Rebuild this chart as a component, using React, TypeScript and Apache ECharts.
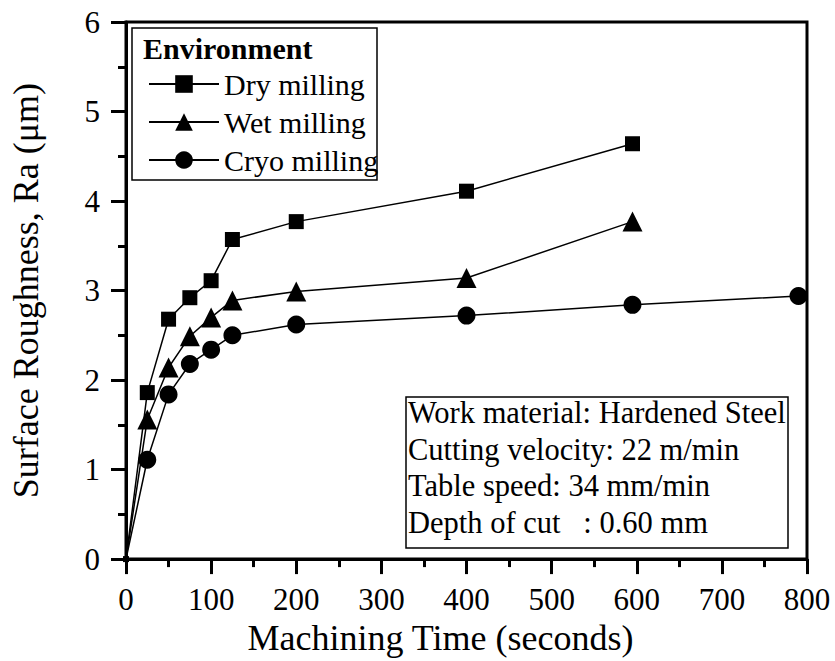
import React, { useEffect, useRef } from "react";
import * as echarts from "echarts";

const FONT = "'Liberation Serif', 'Times New Roman', Times, serif";

const timeDry = [0, 25, 50, 75, 100, 125, 200, 400, 595];
const raDry = [0, 1.86, 2.68, 2.92, 3.11, 3.57, 3.77, 4.11, 4.64];
const timeWet = [0, 25, 50, 75, 100, 125, 200, 400, 595];
const raWet = [0, 1.56, 2.14, 2.49, 2.7, 2.89, 2.99, 3.14, 3.77];
const timeCryo = [0, 25, 50, 75, 100, 125, 200, 400, 595, 790];
const raCryo = [0, 1.11, 1.84, 2.18, 2.34, 2.5, 2.62, 2.72, 2.84, 2.94];

const seriesNames = ["Dry milling", "Wet milling", "Cryo milling"];
const legendTitle = "Environment";
const infoLines = [
  "Work material: Hardened Steel",
  "Cutting velocity: 22 m/min",
  "Table speed: 34 mm/min",
  "Depth of cut   : 0.60 mm",
];
const xTitle = "Machining Time (seconds)";
const yTitle = "Surface Roughness, Ra (\u03bcm)";

function pairs(xs: number[], ys: number[]) {
  return xs.map((x, i) => {
    if (i === 0) return { value: [x, ys[i]], symbolSize: 6 };
    return [x, ys[i]];
  });
}

export default function App() {
  const ref = useRef<HTMLDivElement>(null);
  useEffect(() => {
    if (!ref.current) return;
    const chart = echarts.init(ref.current, undefined, { renderer: "svg" });
    const lineStyle = { color: "#000", width: 1.5 };
    const mk = (name: string, xs: number[], ys: number[], symbol: string, size: number) => ({
      name,
      type: "line",
      data: pairs(xs, ys),
      symbol,
      symbolSize: size,
      showAllSymbol: true,
      clip: false,
      itemStyle: { color: "#000" },
      lineStyle,
    });
    chart.setOption({
      animation: false,
      backgroundColor: "#fff",
      textStyle: { fontFamily: FONT },
      grid: {
        left: 126,
        right: 28,
        top: 22,
        bottom: 99,
        show: true,
        borderColor: "#000",
        borderWidth: 3,
        containLabel: false,
      },
      xAxis: {
        type: "value",
        min: 0,
        max: 800,
        interval: 100,
        name: xTitle,
        nameLocation: "middle",
        nameGap: 56,
        nameTextStyle: { fontFamily: FONT, fontSize: 36, color: "#000", padding: [0, 52, 0, 0] },
        axisLine: { show: true, onZero: false, lineStyle: { color: "#000", width: 3 } },
        axisTick: { show: true, length: 15, lineStyle: { color: "#000", width: 3 } },
        minorTick: { show: true, splitNumber: 2, length: 8, lineStyle: { color: "#000", width: 3 } },
        axisLabel: { fontFamily: FONT, fontSize: 31, color: "#000", margin: 25 },
        splitLine: { show: false },
      },
      yAxis: {
        type: "value",
        min: 0,
        max: 6,
        interval: 1,
        name: yTitle,
        nameLocation: "middle",
        nameGap: 82,
        nameTextStyle: { fontFamily: FONT, fontSize: 36, color: "#000" },
        axisLine: { show: true, onZero: false, lineStyle: { color: "#000", width: 3 } },
        axisTick: { show: true, length: 15, lineStyle: { color: "#000", width: 3 } },
        minorTick: { show: true, splitNumber: 2, length: 8, lineStyle: { color: "#000", width: 3 } },
        axisLabel: { fontFamily: FONT, fontSize: 31, color: "#000", margin: 26 },
        splitLine: { show: false },
      },
      legend: {
        orient: "vertical",
        left: 143,
        top: 64,
        itemWidth: 70,
        itemHeight: 22,
        itemGap: 8,
        textStyle: { fontFamily: FONT, fontSize: 30, color: "#000" },
        data: seriesNames,
      },
      graphic: [
        {
          type: "rect",
          shape: { x: 132, y: 28, width: 245, height: 152 },
          style: { fill: "none", stroke: "#000", lineWidth: 1.5 },
          z: 50,
        },
        {
          type: "text",
          x: 143,
          y: 48,
          style: {
            text: legendTitle,
            font: `bold 30px ${FONT}`,
            fill: "#000",
            verticalAlign: "middle",
          },
          z: 50,
        },
        {
          type: "rect",
          shape: { x: 406, y: 397, width: 382, height: 151 },
          style: { fill: "#fff", stroke: "#000", lineWidth: 1.5 },
          z: 50,
        },
        ...infoLines.map((t, i) => ({
          type: "text",
          x: 408,
          y: 413 + i * 36.7,
          style: {
            text: t,
            font: `30.5px ${FONT}`,
            fill: "#000",
            verticalAlign: "middle",
          },
          z: 51,
        })),
      ],
      series: [
        mk(seriesNames[0], timeDry, raDry, "rect", 15),
        mk(seriesNames[1], timeWet, raWet, "triangle", 20),
        mk(seriesNames[2], timeCryo, raCryo, "circle", 18),
      ],
    });
    return () => chart.dispose();
  }, []);
  return (
    <div
      ref={ref}
      style={{ position: "absolute", left: 0, top: 0, width: 835, height: 661 }}
    />
  );
}
